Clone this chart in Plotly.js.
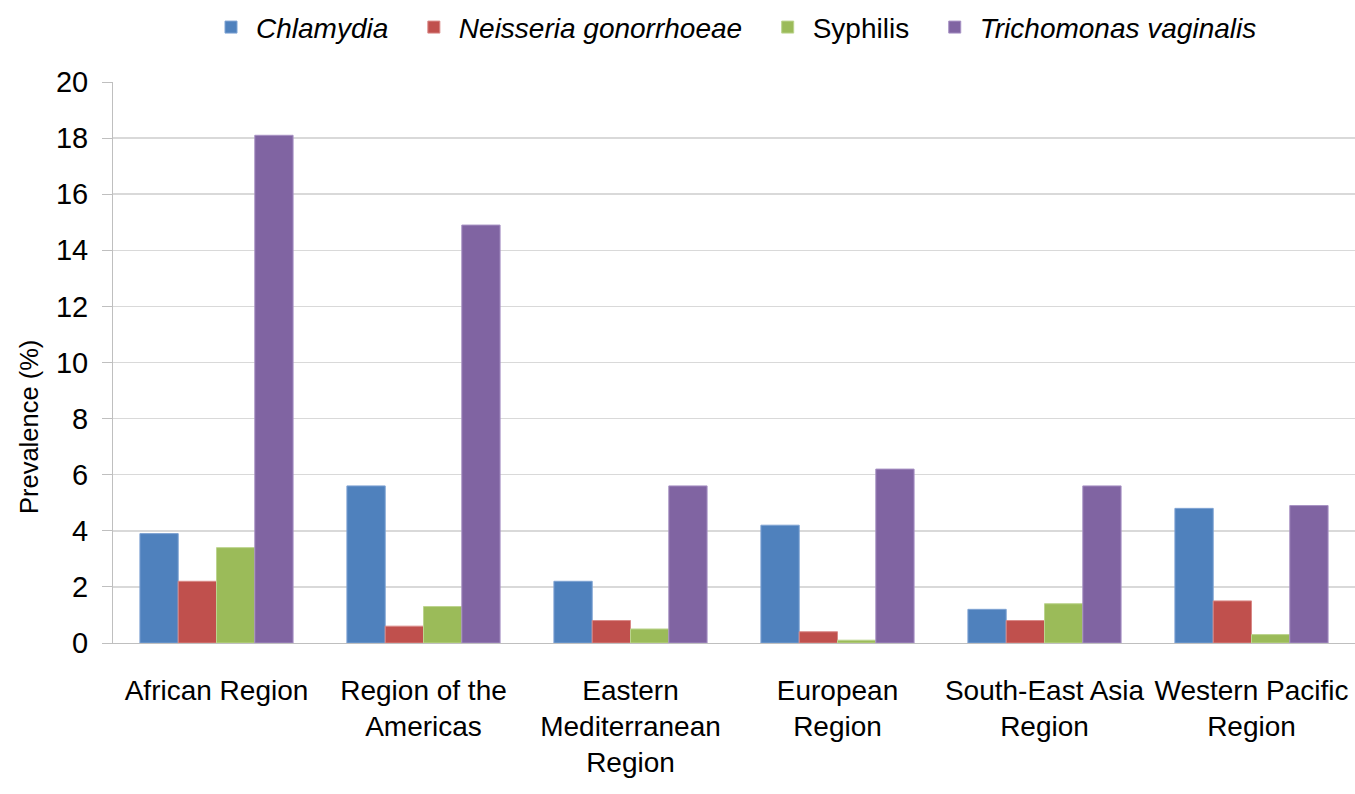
<!DOCTYPE html>
<html>
<head>
<meta charset="utf-8">
<script src="https://cdn.plot.ly/plotly-3.0.1.min.js"></script>
<style>
  html, body { margin: 0; padding: 0; background: #fff; }
  #chart { width: 1355px; height: 794px; }
</style>
</head>
<body>
<div id="chart"></div>
<script>
const regions = [
  "African Region",
  "Region of the<br>Americas",
  "Eastern<br>Mediterranean<br>Region",
  "European<br>Region",
  "South-East Asia<br>Region",
  "Western Pacific<br>Region"
];
const seriesNames = ["<i>Chlamydia</i>\u00A0\u00A0", "<i>Neisseria gonorrhoeae</i>\u00A0\u00A0", "Syphilis\u00A0\u00A0", "<i>Trichomonas vaginalis</i>"];
const chlamydia = [3.9, 5.6, 2.2, 4.2, 1.2, 4.8];
const neisseria = [2.2, 0.6, 0.8, 0.4, 0.8, 1.5];
const syphilis = [3.4, 1.3, 0.5, 0.1, 1.4, 0.3];
const trichomonas = [18.1, 14.9, 5.6, 6.2, 5.6, 4.9];
const yTicks = [0, 2, 4, 6, 8, 10, 12, 14, 16, 18, 20];
const yTitle = "Prevalence (%)";

const colors = ["#4F81BD", "#C0504D", "#9BBB59", "#8064A2"];
const edges = ["#7FA3D3", "#D98987", "#BCD48E", "#A792C4"];
const values = [chlamydia, neisseria, syphilis, trichomonas];

const FONT = "'Liberation Sans Narrow', 'Liberation Sans', Arial, sans-serif";

const traces = values.map((v, i) => ({
  type: "bar",
  name: seriesNames[i],
  x: regions,
  y: v,
  marker: { color: colors[i], line: { color: edges[i], width: 1 } },
  hoverinfo: "x+y+name"
}));

const layout = {
  width: 1355,
  height: 794,
  paper_bgcolor: "#ffffff",
  plot_bgcolor: "#ffffff",
  margin: { l: 113, r: 0, t: 82, b: 151 },
  barmode: "group",
  bargap: 0.26,
  bargroupgap: 0,
  font: { family: FONT, size: 29, color: "#000" },
  showlegend: true,
  legend: {
    orientation: "h",
    x: 0.5,
    xanchor: "center",
    y: 0.997,
    yanchor: "top",
    yref: "container",
    font: { family: FONT, size: 28, color: "#000" },
    itemwidth: 40,
    traceorder: "normal",
    bgcolor: "rgba(0,0,0,0)"
  },
  xaxis: {
    type: "category",
    tickangle: 0,
    tickfont: { family: FONT, size: 28, color: "#000" },
    showgrid: false,
    showline: true,
    linecolor: "#BFBFBF",
    linewidth: 1,
    ticks: "",
    ticklabelstandoff: 22,
    automargin: false
  },
  yaxis: {
    range: [0, 20],
    tickvals: yTicks,
    ticktext: yTicks.map(String),
    tickfont: { family: FONT, size: 29, color: "#000" },
    showgrid: true,
    gridcolor: "#D9D9D9",
    gridwidth: 1.5,
    showline: true,
    linecolor: "#BFBFBF",
    linewidth: 1,
    ticks: "outside",
    ticklen: 10,
    tickcolor: "#BFBFBF",
    ticklabelstandoff: 8,
    zeroline: false,
    automargin: false
  },
  annotations: [{
    text: yTitle,
    xref: "paper",
    yref: "paper",
    x: (29 - 113) / 1242,
    y: (643 - 427) / 561,
    xanchor: "center",
    yanchor: "middle",
    textangle: -90,
    showarrow: false,
    font: { family: "'Liberation Sans', Arial, sans-serif", size: 25.5, color: "#000" }
  }]
};

Plotly.newPlot("chart", traces, layout, { displayModeBar: false, staticPlot: true });
</script>
</body>
</html>
